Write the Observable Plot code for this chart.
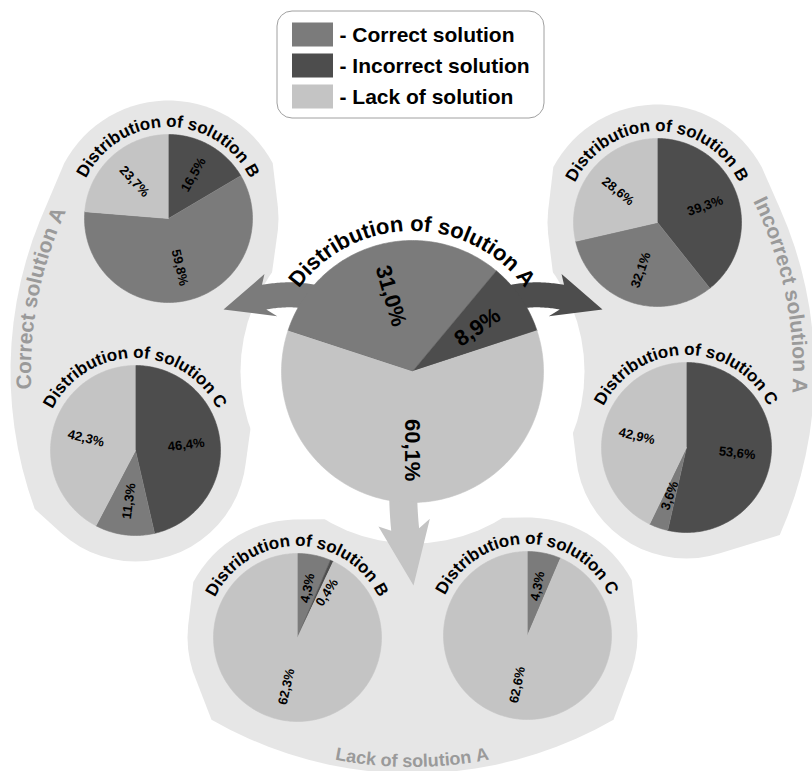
<!DOCTYPE html>
<html>
<head>
<meta charset="utf-8">
<script src="https://cdn.jsdelivr.net/npm/d3@7"></script>
<script src="https://cdn.jsdelivr.net/npm/@observablehq/plot@0.6"></script>
<style>
  html, body { margin: 0; padding: 0; background: #fff; overflow: hidden; }
  #chart svg { display: block; overflow: hidden !important; }
</style>
</head>
<body>
<div id="chart"></div>
<script>
// ---------------- DATA ----------------
const categories = ["Correct solution", "Incorrect solution", "Lack of solution"];
const colors = ["#7b7b7b", "#4d4d4d", "#c4c4c4"];
// every series is listed as [correct, incorrect, lack] in %
const solutionA = [31.0, 8.9, 60.1];
const correctA_solutionB = [59.8, 16.5, 23.7];
const correctA_solutionC = [11.3, 46.4, 42.3];
const incorrectA_solutionB = [32.1, 39.3, 28.6];
const incorrectA_solutionC = [3.6, 53.6, 42.9];
const lackA_solutionB = [4.3, 0.4, 62.3];
const lackA_solutionC = [4.3, 0.0, 62.6];
const pieTitles = ["Distribution of solution A", "Distribution of solution B", "Distribution of solution C"];
const groupLabels = ["Correct solution A", "Incorrect solution A", "Lack of solution A"];

// ---------------- LAYOUT ----------------
const W = 812, H = 771;
const FONT = "'Liberation Sans', Arial, Helvetica, sans-serif";
const deg = Math.PI / 180;
const hub = {cx: 412, cy: 371, r: 131};
const pies = [
  {id: "A",  values: solutionA,            title: pieTitles[0], cx: hub.cx, cy: hub.cy, r: hub.r, order: [0, 1, 2], big: true},
  {id: "CB", values: correctA_solutionB,   title: pieTitles[1], cx: 168, cy: 218, r: 84, order: [1, 0, 2]},
  {id: "CC", values: correctA_solutionC,   title: pieTitles[2], cx: 135, cy: 450, r: 85, order: [1, 0, 2]},
  {id: "IB", values: incorrectA_solutionB, title: pieTitles[1], cx: 657, cy: 222, r: 84, order: [1, 0, 2]},
  {id: "IC", values: incorrectA_solutionC, title: pieTitles[2], cx: 686, cy: 447, r: 85, order: [1, 0, 2]},
  {id: "LB", values: lackA_solutionB,      title: pieTitles[1], cx: 297, cy: 637, r: 84, order: [0, 1, 2]},
  {id: "LC", values: lackA_solutionC,      title: pieTitles[2], cx: 527, cy: 635, r: 84, order: [0, 1, 2]}
];
const pieById = Object.fromEntries(pies.map(p => [p.id, p]));
const groups = [
  {label: groupLabels[0], pies: ["CB", "CC"], outer: [250, 300], text: {a0: 201, a1: 361, R: 381, size: 21}},
  {label: groupLabels[1], pies: ["IB", "IC"], outer: [60, 115], text: {a0: -1.6, a1: 158.4, R: 381, size: 21}},
  {label: groupLabels[2], pies: ["LB", "LC"], outer: [150, 210], text: {a0: 260, a1: 100, R: 396, size: 18}}
];
const arrows = [
  {cat: 0, S: [318, 298], C: [276, 287], T: [223, 309], sw: 25, hw: 44, hl: 42},
  {cat: 1, S: [507, 298], C: [549, 287], T: [602, 309], sw: 25, hw: 44, hl: 42},
  {cat: 2, S: [403, 480], C: [401, 522], T: [413, 585], sw: 28, hw: 52, hl: 55}
];

// ---------------- GEOMETRY ----------------
const polar = (cx, cy, R, a) => [cx + R * Math.sin(a * deg), cy - R * Math.cos(a * deg)];
const fmt = v => v.toFixed(1).replace(".", ",") + "%";
const measureCtx = document.createElement("canvas").getContext("2d");
function measure(str, size, weight) {
  measureCtx.font = `${weight} ${size}px ${FONT}`;
  return measureCtx.measureText(str).width;
}

function startAngle(p) {
  if (!p.big) return 0;
  // rotate the hub pie so that the "lack" slice is centred at the bottom
  const tot = d3.sum(p.values);
  return 180 - (p.values[0] + p.values[1] + p.values[2] / 2) / tot * 360;
}

const sliceRows = [], labelRows = [];
pies.forEach(p => {
  const s = startAngle(p) * deg;
  const tot = d3.sum(p.values);
  const items = p.order.map(k => ({cat: categories[k], value: p.values[k]}));
  const arcs = d3.pie().sort(null).value(d => d.value).startAngle(s).endAngle(s + 2 * Math.PI)(items);
  arcs.forEach(a => {
    if (a.data.value <= 0) return;
    const sid = p.id + ":" + a.data.cat;
    sliceRows.push({slice: sid, cat: a.data.cat, x: p.cx, y: p.cy});
    const n = Math.max(2, Math.ceil((a.endAngle - a.startAngle) / deg));
    for (let i = 0; i <= n; i++) {
      const ang = a.startAngle + (a.endAngle - a.startAngle) * i / n;
      sliceRows.push({slice: sid, cat: a.data.cat, x: p.cx + p.r * Math.sin(ang), y: p.cy - p.r * Math.cos(ang)});
    }
    // label along the slice bisector; a very thin slice gets its label nudged past the slice edge
    const thin = a.data.value / tot < 0.01;
    const mid = thin ? a.endAngle + 8 * deg : (a.startAngle + a.endAngle) / 2;
    const rr = (thin ? 0.64 : 0.6) * p.r;
    const midDeg = ((mid / deg) % 360 + 360) % 360;
    const rot = midDeg > 180 ? midDeg - 270 : midDeg - 90;
    labelRows.push({big: !!p.big, x: p.cx + rr * Math.sin(mid), y: p.cy - rr * Math.cos(mid), rotate: rot, text: fmt(a.data.value)});
  });
});

// background blobs: convex hull of rings around each pie + outer arc
const blobRows = [];
groups.forEach((g, gi) => {
  g.pies.forEach(id => {
    const p = pieById[id];
    for (let a = 0; a < 360; a += 6) {
      const [x, y] = polar(p.cx, p.cy, p.r + 26, a);
      blobRows.push({blob: gi, x, y});
    }
    for (let a = -62; a <= 62; a += 4) {
      const [x, y] = polar(p.cx, p.cy, p.r + 34, a);
      blobRows.push({blob: gi, x, y});
    }
  });
  for (let a = g.outer[0]; a <= g.outer[1]; a += 3) {
    const [x, y] = polar(hub.cx, hub.cy, 402, a);
    blobRows.push({blob: gi, x, y});
  }
});

function arrowPoly(a) {
  const N = 60, pts = [];
  for (let i = 0; i <= N; i++) {
    const t = i / N, u = 1 - t;
    pts.push([u * u * a.S[0] + 2 * u * t * a.C[0] + t * t * a.T[0], u * u * a.S[1] + 2 * u * t * a.C[1] + t * t * a.T[1]]);
  }
  let k = N;
  while (k > 0 && Math.hypot(pts[k][0] - a.T[0], pts[k][1] - a.T[1]) < a.hl) k--;
  const shaft = pts.slice(0, k + 1);
  const Hb = pts[k];
  const dx = a.T[0] - Hb[0], dy = a.T[1] - Hb[1], L = Math.hypot(dx, dy);
  const d = [dx / L, dy / L], n = [-d[1], d[0]];
  const left = [], right = [];
  shaft.forEach((p, i) => {
    const q = shaft[Math.min(i + 1, shaft.length - 1)], o = shaft[Math.max(i - 1, 0)];
    let tx = q[0] - o[0], ty = q[1] - o[1];
    const tl = Math.hypot(tx, ty) || 1; tx /= tl; ty /= tl;
    left.push([p[0] - ty * a.sw / 2, p[1] + tx * a.sw / 2]);
    right.push([p[0] + ty * a.sw / 2, p[1] - tx * a.sw / 2]);
  });
  const back = 7;
  return [
    ...left,
    [Hb[0] + n[0] * a.hw / 2 - d[0] * back, Hb[1] + n[1] * a.hw / 2 - d[1] * back],
    a.T,
    [Hb[0] - n[0] * a.hw / 2 - d[0] * back, Hb[1] - n[1] * a.hw / 2 - d[1] * back],
    ...right.reverse()
  ];
}
const arrowRows = [];
arrows.forEach((a, i) => arrowPoly(a).forEach(([x, y]) => arrowRows.push({id: i, cat: categories[a.cat], x, y})));

// curved texts (pie titles + group labels)
const arcTexts = [];
pies.forEach(p => arcTexts.push({
  cx: p.cx, cy: p.cy, R: p.r + (p.big ? 9 : 7), a0: -90, a1: 90,
  text: p.title, size: p.big ? 22 : 17, weight: "bold", color: "#000"
}));
groups.forEach(g => arcTexts.push({
  cx: hub.cx, cy: hub.cy, R: g.text.R, a0: g.text.a0, a1: g.text.a1,
  text: g.label, size: g.text.size, weight: "bold", color: "#9a9a9a", split: true
}));

function arcTextMark(items) {
  return (index, scales) => {
    const sx = scales && scales.x ? scales.x : v => v;
    const sy = scales && scales.y ? scales.y : v => v;
    const k = Math.abs(sx(1) - sx(0)) || 1;
    const g = d3.create("svg:g");
    items.forEach((it, i) => {
      const id = "arc-text-path-" + i;
      const p0 = polar(it.cx, it.cy, it.R, it.a0), p1 = polar(it.cx, it.cy, it.R, it.a1);
      const large = Math.abs(it.a1 - it.a0) > 180 ? 1 : 0;
      const sweep = it.a1 > it.a0 ? 1 : 0;
      const dPath = `M${sx(p0[0])},${sy(p0[1])}A${it.R * k},${it.R * k} 0 ${large} ${sweep} ${sx(p1[0])},${sy(p1[1])}`;
      g.append("path").attr("id", id).attr("d", dPath).attr("fill", "none").attr("stroke", "none");
      if (!it.split) {
        g.append("text")
          .attr("font-family", FONT).attr("font-size", it.size).attr("font-weight", it.weight)
          .attr("fill", it.color).attr("text-anchor", "middle")
          .append("textPath").attr("href", "#" + id).attr("startOffset", "50%")
          .text(it.text);
      } else {
        // one text per word, laid out along the same arc (keeps tight boxes on a curved label)
        const pathLen = it.R * k * Math.abs(it.a1 - it.a0) * deg;
        const total = measure(it.text, it.size, it.weight);
        const words = it.text.split(" ");
        let prefix = "";
        words.forEach((w, wi) => {
          const off = pathLen / 2 - total / 2 + (wi ? measure(prefix, it.size, it.weight) : 0);
          g.append("text")
            .attr("font-family", FONT).attr("font-size", it.size).attr("font-weight", it.weight)
            .attr("fill", it.color).attr("text-anchor", "start")
            .append("textPath").attr("href", "#" + id).attr("startOffset", off)
            .text(w);
          prefix += w + " ";
        });
      }
    });
    return g.node();
  };
}

// ---------------- PLOT ----------------
const plot = Plot.plot({
  width: W, height: H, margin: 0,
  x: {domain: [0, W], range: [0, W], axis: null},
  y: {domain: [0, H], range: [0, H], axis: null},
  color: {domain: categories, range: colors},
  style: {fontFamily: FONT, background: "white"},
  marks: [
    Plot.hull(blobRows, {x: "x", y: "y", z: "blob", fill: "#e6e6e6", stroke: "none"}),
    Plot.dot([hub], {x: "cx", y: "cy", r: 172, fill: "white", stroke: "none"}),
    Plot.line(arrowRows, {x: "x", y: "y", z: "id", fill: "cat", stroke: "none"}),
    Plot.line(sliceRows, {x: "x", y: "y", z: "slice", fill: "cat", stroke: "cat", strokeWidth: 0.6}),
    Plot.text(labelRows.filter(d => !d.big), {x: "x", y: "y", text: "text", rotate: "rotate", fontSize: 13, fontWeight: "bold", fill: "#000"}),
    Plot.text(labelRows.filter(d => d.big), {x: "x", y: "y", text: "text", rotate: "rotate", fontSize: 22, fontWeight: "bold", fill: "#000"}),
    arcTextMark(arcTexts),
    // legend
    Plot.rect([0], {x1: 277, x2: 544, y1: 11, y2: 118, rx: 15, fill: "white", stroke: "#a0a0a0", strokeWidth: 1}),
    Plot.rect(categories, {x1: 292, x2: 333, y1: (d, i) => 22.5 + i * 31, y2: (d, i) => 46.5 + i * 31, fill: d => d}),
    Plot.text(categories, {x: 339, y: (d, i) => 34.5 + i * 31, text: d => "- " + d, textAnchor: "start", fontSize: 21, fontWeight: "bold", fill: "#000"})
  ]
});
document.getElementById("chart").appendChild(plot);
</script>
</body>
</html>
